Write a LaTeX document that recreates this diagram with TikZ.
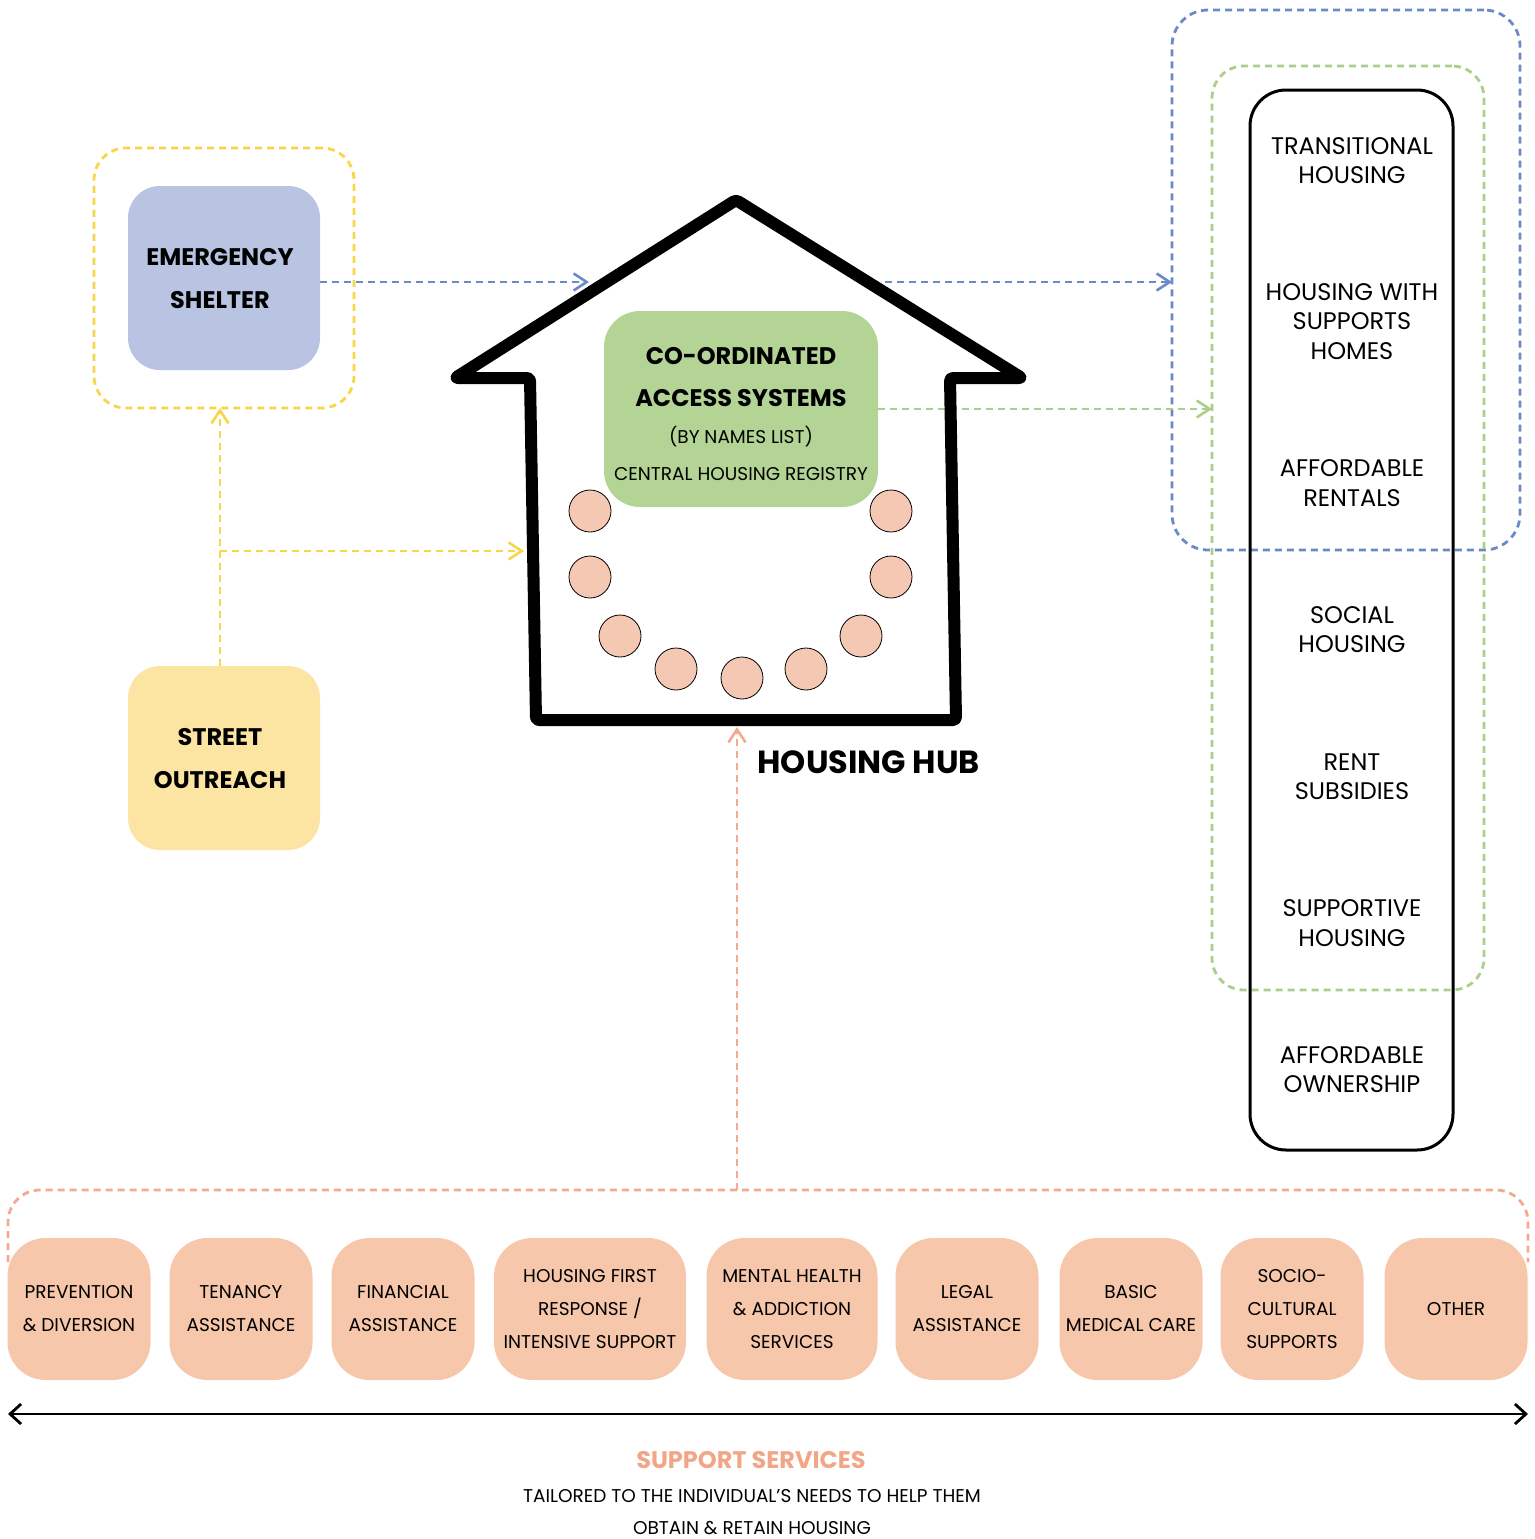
\documentclass[tikz,border=0pt]{standalone}
\usepackage{fontspec}
\setmainfont{Poppins}
\usetikzlibrary{arrows.meta}

\definecolor{shelterfill}{HTML}{B8C4E2}
\definecolor{outreachfill}{HTML}{FCE5A2}
\definecolor{yellowline}{HTML}{F9D548}
\definecolor{blueline}{HTML}{6C8AC5}
\definecolor{casfill}{HTML}{B3D495}
\definecolor{greenline}{HTML}{A9D08A}
\definecolor{seatfill}{HTML}{F4C8B3}
\definecolor{svcfill}{HTML}{F7C7AB}
\definecolor{salmonline}{HTML}{F5A98E}
\definecolor{salmontext}{HTML}{F2A688}

\begin{document}
\begin{tikzpicture}[x=1pt,y=-1pt,
  panel/.style={rounded corners=32pt, inner sep=0pt, outer sep=0pt, align=center},
  headtxt/.style={align=center, font=\bfseries\fontsize{24}{43}\selectfont},
  frame/.style={panel, draw=#1, line width=2.8pt, dash pattern=on 7pt off 5pt, fill=none},
  flow/.style={draw=#1, line width=2.8pt, dash pattern=on 7pt off 5pt,
    -{Straight Barb[length=13pt,width=17pt,line width=2.6pt]}},
  seat/.style={circle, draw=black, line width=0.8pt, fill=seatfill, minimum size=42pt, inner sep=0pt},
  svc/.style={panel, rounded corners=38pt, fill=svcfill, minimum height=142pt,
    font=\fontsize{18.5}{33}\selectfont},
  option/.style={align=center, font=\fontsize{24}{29.5}\selectfont},
]
\useasboundingbox (0,0) rectangle (1534,1539);

% ---- left column: shelter and outreach ----
\node[frame=yellowline, minimum width=260pt, minimum height=260pt] (yb) at (224,278) {};
\node[panel, fill=shelterfill, minimum width=192pt, minimum height=184pt] (es) at (224,278) {};
\node[headtxt] (eslbl) at (220,278.5) {EMERGENCY\\SHELTER};
\node[panel, fill=outreachfill, minimum width=192pt, minimum height=184pt] (so) at (224,758) {};
\node[headtxt] (solbl) at (220,758.5) {STREET\\OUTREACH};

% ---- right column: housing options ----
\node[frame=blueline, rounded corners=36pt, minimum width=348pt, minimum height=540pt] (bb) at (1346,280) {};
\node[frame=greenline, rounded corners=32pt, minimum width=272pt, minimum height=924pt] (gb) at (1348,528) {};
\node[panel, draw=black, line width=3pt, rounded corners=36pt, minimum width=203pt, minimum height=1060pt] (col) at (1351.5,620) {};
\node[option] (o1) at (1352,160.5) {TRANSITIONAL\\HOUSING};
\node[option] (o2) at (1352,321.5) {HOUSING WITH\\SUPPORTS\\HOMES};
\node[option] (o3) at (1352,483) {AFFORDABLE\\RENTALS};
\node[option] (o4) at (1352,629.5) {SOCIAL\\HOUSING};
\node[option] (o5) at (1352,776.5) {RENT\\SUBSIDIES};
\node[option] (o6) at (1352,923) {SUPPORTIVE\\HOUSING};
\node[option] (o7) at (1352,1069.5) {AFFORDABLE\\OWNERSHIP};

% ---- co-ordinated access box ----
\node[panel, rounded corners=36pt, fill=casfill, minimum width=274pt, minimum height=196pt] (cas) at (741,409) {};
\node[font=\bfseries\fontsize{24}{28}\selectfont] (cas1) at (741,356) {CO-ORDINATED};
\node[font=\bfseries\fontsize{24}{28}\selectfont] (cas2) at (741,398) {ACCESS SYSTEMS};
\node[font=\fontsize{18.5}{22}\selectfont] (cas3) at (741,437) {(BY NAMES LIST)};
\node[font=\fontsize{18.5}{22}\selectfont] (cas4) at (741,474) {CENTRAL HOUSING REGISTRY};

% anchor points on the house outline
\coordinate (roofL) at (589,282);
\coordinate (roofR) at (885,282);
\coordinate (wallL) at (524,551);
\coordinate (hubbase) at (737,727);
\coordinate (svctop) at (737,1190);

% ---- dashed flows ----
\draw[flow=blueline] (es.east |- roofL) -- (roofL);
\draw[flow=blueline] (roofR) -- (bb.west |- roofR);
\draw[flow=greenline] (cas.east) -- (gb.west |- cas.east);
\draw[flow=yellowline] ([xshift=-4pt]so.north) -- ([xshift=-4pt]yb.south);
\draw[flow=yellowline] ([xshift=-4pt]so.north |- wallL) -- (wallL);
\draw[flow=salmonline] (svctop) -- (hubbase);

% ---- house outline ----
\draw[line width=12pt, line join=round, rounded corners=3pt]
  (736,200) -- (455,378) -- (530,378) -- (536,720) -- (956,720) -- (950,378) -- (1022,378) -- cycle;

% seats round the table
\node[seat] (s1) at (590,511) {};
\node[seat] (s2) at (590,577) {};
\node[seat] (s3) at (620,636) {};
\node[seat] (s4) at (676,669) {};
\node[seat] (s5) at (742,678) {};
\node[seat] (s6) at (806,669) {};
\node[seat] (s7) at (861,636) {};
\node[seat] (s8) at (891,577) {};
\node[seat] (s9) at (891,511) {};

\node[anchor=west, font=\bfseries\fontsize{32}{38}\selectfont] (hub) at (754,762) {HOUSING HUB};

% ---- support services ----
\draw[salmonline, line width=2.8pt, dash pattern=on 7pt off 5pt, rounded corners=32pt]
  (8,1262) -- (8,1190) -- (svctop) -- (1528,1190) -- (1528,1262);

\node[svc, minimum width=143pt] (v1) at (79,1309) {PREVENTION\\\& DIVERSION};
\node[svc, minimum width=143pt] (v2) at (241,1309) {TENANCY\\ASSISTANCE};
\node[svc, minimum width=143pt] (v3) at (403,1309) {FINANCIAL\\ASSISTANCE};
\node[svc, minimum width=192pt] (v4) at (590,1309) {HOUSING FIRST\\RESPONSE /\\INTENSIVE SUPPORT};
\node[svc, minimum width=171pt] (v5) at (792,1309) {MENTAL HEALTH\\\& ADDICTION\\SERVICES};
\node[svc, minimum width=143pt] (v6) at (967,1309) {LEGAL\\ASSISTANCE};
\node[svc, minimum width=143pt] (v7) at (1131,1309) {BASIC\\MEDICAL CARE};
\node[svc, minimum width=143pt] (v8) at (1292,1309) {SOCIO-\\CULTURAL\\SUPPORTS};
\node[svc, minimum width=143pt] (v9) at (1456,1309) {OTHER};

\coordinate (spanL) at (8,1414);
\coordinate (spanR) at (1528,1414);
\draw[line width=2.8pt, {Straight Barb[length=11pt,width=20pt]}-{Straight Barb[length=11pt,width=20pt]}] (spanL) -- (spanR);

\node[font=\bfseries\fontsize{24}{28}\selectfont, text=salmontext] (st) at (751,1460) {SUPPORT SERVICES};
\node[font=\fontsize{18.5}{32}\selectfont, align=center] (sd) at (752,1512.5)
  {TAILORED TO THE INDIVIDUAL’S NEEDS TO HELP THEM\\OBTAIN \& RETAIN HOUSING};
\end{tikzpicture}
\end{document}
